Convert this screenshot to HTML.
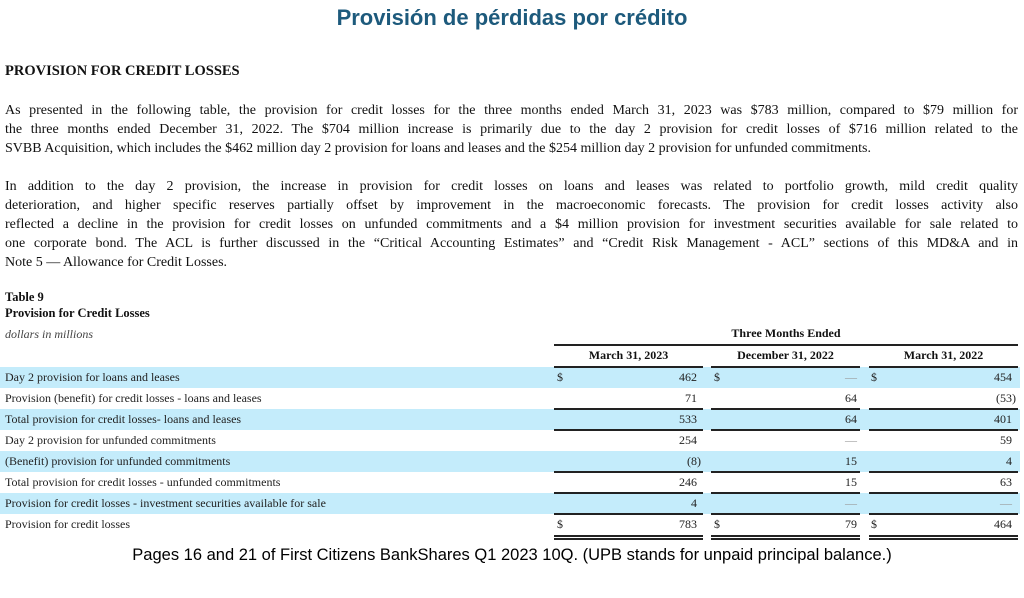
<!DOCTYPE html>
<html><head><meta charset="utf-8"><style>
body{margin:0;width:1024px;height:598px;background:#fff;position:relative;overflow:hidden;font-family:"Liberation Serif",serif;color:#111}
.a{position:absolute;white-space:nowrap}
.j{position:absolute;left:5px;width:1013px;font-size:14px;text-align:justify;text-align-last:justify;white-space:nowrap;overflow:hidden;line-height:16px}
.row{position:absolute;left:0;width:1020px;height:21px}
.blue{background:#c4ecfb}
.lab{position:absolute;left:5px;font-size:12px;line-height:21px;color:#222}
.v{position:absolute;font-size:12px;line-height:21px;text-align:right;color:#222}
.d{position:absolute;font-size:12px;line-height:21px;color:#222}
.ln{position:absolute;height:1.5px;background:#222}
</style></head><body>
<div class="a" style="left:0;width:1024px;text-align:center;top:5px;font-family:'Liberation Sans',sans-serif;font-weight:bold;font-size:22px;color:#1d5a7c">Provisión de pérdidas por crédito</div>
<div class="a" style="left:5px;top:63px;font-size:14.5px;font-weight:bold">PROVISION FOR CREDIT LOSSES</div>
<div class="j" style="top:103px">As presented in the following table, the provision for credit losses for the three months ended March 31, 2023 was $783 million, compared to $79 million for</div>
<div class="j" style="top:122px">the three months ended December 31, 2022. The $704 million increase is primarily due to the day 2 provision for credit losses of $716 million related to the</div>
<div class="a" style="left:5px;top:141px;font-size:14px;line-height:16px">SVBB Acquisition, which includes the $462 million day 2 provision for loans and leases and the $254 million day 2 provision for unfunded commitments.</div>
<div class="j" style="top:179px">In addition to the day 2 provision, the increase in provision for credit losses on loans and leases was related to portfolio growth, mild credit quality</div>
<div class="j" style="top:198px">deterioration, and higher specific reserves partially offset by improvement in the macroeconomic forecasts. The provision for credit losses activity also</div>
<div class="j" style="top:217px">reflected a decline in the provision for credit losses on unfunded commitments and a $4 million provision for investment securities available for sale related to</div>
<div class="j" style="top:236px">one corporate bond. The ACL is further discussed in the “Critical Accounting Estimates” and “Credit Risk Management - ACL” sections of this MD&amp;A and in</div>
<div class="a" style="left:5px;top:255px;font-size:14px;line-height:16px">Note 5 — Allowance for Credit Losses.</div>
<div class="a" style="left:5px;top:290px;font-size:12.5px;font-weight:bold">Table 9</div>
<div class="a" style="left:5px;top:306px;font-size:12.5px;font-weight:bold">Provision for Credit Losses</div>
<div class="a" style="left:5px;top:327px;font-size:12px;font-style:italic;color:#444">dollars in millions</div>
<div class="a" style="left:554px;width:464px;text-align:center;top:326px;font-size:12px;font-weight:bold">Three Months Ended</div>
<div class="ln" style="left:554px;width:464px;top:344px"></div>
<div class="a" style="left:554px;width:149px;text-align:center;top:348px;font-size:12px;font-weight:bold">March 31, 2023</div>
<div class="a" style="left:711px;width:149px;text-align:center;top:348px;font-size:12px;font-weight:bold">December 31, 2022</div>
<div class="a" style="left:869px;width:149px;text-align:center;top:348px;font-size:12px;font-weight:bold">March 31, 2022</div>

<div class="row blue" style="top:367px"></div>
<div class="row" style="top:388px"></div>
<div class="row blue" style="top:409px"></div>
<div class="row" style="top:430px"></div>
<div class="row blue" style="top:451px"></div>
<div class="row" style="top:472px"></div>
<div class="row blue" style="top:493px"></div>
<div class="row" style="top:514px"></div>

<div class="lab" style="top:367px">Day 2 provision for loans and leases</div>
<div class="lab" style="top:388px">Provision (benefit) for credit losses - loans and leases</div>
<div class="lab" style="top:409px">Total provision for credit losses- loans and leases</div>
<div class="lab" style="top:430px">Day 2 provision for unfunded commitments</div>
<div class="lab" style="top:451px">(Benefit) provision for unfunded commitments</div>
<div class="lab" style="top:472px">Total provision for credit losses - unfunded commitments</div>
<div class="lab" style="top:493px">Provision for credit losses - investment securities available for sale</div>
<div class="lab" style="top:514px">Provision for credit losses</div>

<div class="d" style="left:557px;top:367px">$</div><div class="d" style="left:714px;top:367px">$</div><div class="d" style="left:871px;top:367px">$</div>
<div class="d" style="left:557px;top:514px">$</div><div class="d" style="left:714px;top:514px">$</div><div class="d" style="left:871px;top:514px">$</div>

<div class="v" style="left:600px;width:97px;top:367px">462</div>
<div class="v" style="left:600px;width:97px;top:388px">71</div>
<div class="v" style="left:600px;width:97px;top:409px">533</div>
<div class="v" style="left:600px;width:97px;top:430px">254</div>
<div class="v" style="left:600px;width:101px;top:451px">(8)</div>
<div class="v" style="left:600px;width:97px;top:472px">246</div>
<div class="v" style="left:600px;width:97px;top:493px">4</div>
<div class="v" style="left:600px;width:97px;top:514px">783</div>

<div class="v" style="left:760px;width:97px;top:367px;color:#999">—</div>
<div class="v" style="left:760px;width:97px;top:388px">64</div>
<div class="v" style="left:760px;width:97px;top:409px">64</div>
<div class="v" style="left:760px;width:97px;top:430px;color:#999">—</div>
<div class="v" style="left:760px;width:97px;top:451px">15</div>
<div class="v" style="left:760px;width:97px;top:472px">15</div>
<div class="v" style="left:760px;width:97px;top:493px;color:#999">—</div>
<div class="v" style="left:760px;width:97px;top:514px">79</div>

<div class="v" style="left:915px;width:97px;top:367px">454</div>
<div class="v" style="left:915px;width:101px;top:388px">(53)</div>
<div class="v" style="left:915px;width:97px;top:409px">401</div>
<div class="v" style="left:915px;width:97px;top:430px">59</div>
<div class="v" style="left:915px;width:97px;top:451px">4</div>
<div class="v" style="left:915px;width:97px;top:472px">63</div>
<div class="v" style="left:915px;width:97px;top:493px;color:#999">—</div>
<div class="v" style="left:915px;width:97px;top:514px">464</div>

<div class="ln" style="left:554px;width:149px;top:366px"></div><div class="ln" style="left:711px;width:149px;top:366px"></div><div class="ln" style="left:869px;width:149px;top:366px"></div>
<div class="ln" style="left:554px;width:149px;top:408px"></div><div class="ln" style="left:711px;width:149px;top:408px"></div><div class="ln" style="left:869px;width:149px;top:408px"></div>
<div class="ln" style="left:554px;width:149px;top:429px"></div><div class="ln" style="left:711px;width:149px;top:429px"></div><div class="ln" style="left:869px;width:149px;top:429px"></div>
<div class="ln" style="left:554px;width:149px;top:471px"></div><div class="ln" style="left:711px;width:149px;top:471px"></div><div class="ln" style="left:869px;width:149px;top:471px"></div>
<div class="ln" style="left:554px;width:149px;top:492px"></div><div class="ln" style="left:711px;width:149px;top:492px"></div><div class="ln" style="left:869px;width:149px;top:492px"></div>
<div class="ln" style="left:554px;width:149px;top:513px"></div><div class="ln" style="left:711px;width:149px;top:513px"></div><div class="ln" style="left:869px;width:149px;top:513px"></div>
<div class="ln" style="left:554px;width:149px;top:535px"></div><div class="ln" style="left:711px;width:149px;top:535px"></div><div class="ln" style="left:869px;width:149px;top:535px"></div>
<div class="ln" style="left:554px;width:149px;top:538px"></div><div class="ln" style="left:711px;width:149px;top:538px"></div><div class="ln" style="left:869px;width:149px;top:538px"></div>

<div class="a" style="left:0;width:1024px;text-align:center;top:546px;font-family:'Liberation Sans',sans-serif;font-size:16.5px;color:#000">Pages 16 and 21 of First Citizens BankShares Q1 2023 10Q. (UPB stands for unpaid principal balance.)</div>
</body></html>
